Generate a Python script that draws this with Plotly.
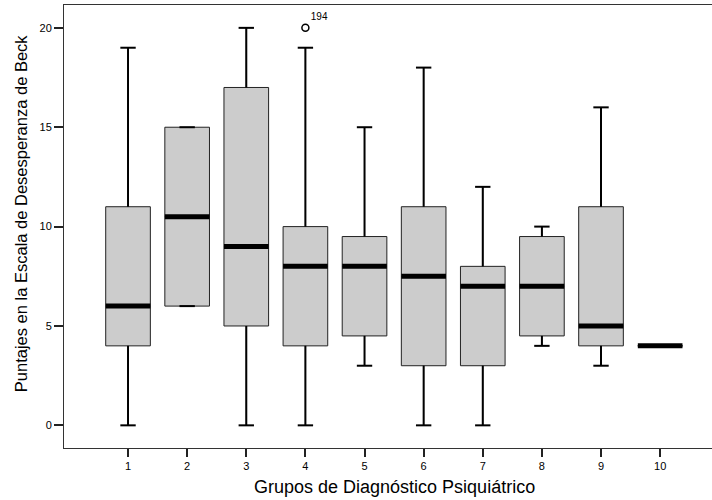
import plotly.graph_objects as go

groups = [1, 2, 3, 4, 5, 6, 7, 8, 9, 10]
tick_labels = ["1", "2", "3", "4", "5", "6", "7", "8", "9", "10"]
mins = [0, 6, 0, 0, 3, 0, 0, 4, 3, 4]
q1s = [4, 6, 5, 4, 4.5, 3, 3, 4.5, 4, 4]
medians = [6, 10.5, 9, 8, 8, 7.5, 7, 7, 5, 4]
q3s = [11, 15, 17, 10, 9.5, 11, 8, 9.5, 11, 4]
maxs = [19, 15, 20, 19, 15, 18, 12, 10, 16, 4]
outlier_x = [4]
outlier_y = [20]
outlier_label = ["194"]

BOX_W = 0.755
CAP_W = 0.26

fig = go.Figure()

fig.add_trace(go.Box(
    x=groups, q1=q1s, median=medians, q3=q3s,
    lowerfence=mins, upperfence=maxs,
    width=BOX_W, whiskerwidth=0.0,
    fillcolor="#cccccc",
    line=dict(color="#222222", width=1),
    boxpoints=False, hoverinfo="skip", showlegend=False,
))

# whiskers + caps (thicker, black)
wx, wy = [], []
for g, lo, a, b, hi in zip(groups, mins, q1s, q3s, maxs):
    if g == 10:
        continue
    wx += [g, g, None, g, g, None]
    wy += [b, hi, None, a, lo, None]
    wx += [g - CAP_W / 2, g + CAP_W / 2, None, g - CAP_W / 2, g + CAP_W / 2, None]
    wy += [hi, hi, None, lo, lo, None]
fig.add_trace(go.Scatter(x=wx, y=wy, mode="lines",
                         line=dict(color="black", width=2),
                         hoverinfo="skip", showlegend=False))

# thick medians
mx, my = [], []
for g, m in zip(groups, medians):
    mx += [g - BOX_W / 2, g + BOX_W / 2, None]
    my += [m, m, None]
fig.add_trace(go.Scatter(x=mx, y=my, mode="lines",
                         line=dict(color="black", width=5),
                         hoverinfo="skip", showlegend=False))

# outlier
fig.add_trace(go.Scatter(
    x=outlier_x, y=outlier_y, mode="markers+text",
    marker=dict(symbol="circle-open", size=7, color="black", line=dict(width=1.5)),
    text=outlier_label, textposition="top right",
    textfont=dict(family="Arial", size=10, color="black"),
    hoverinfo="skip", showlegend=False,
))

fig.update_layout(
    width=724, height=500,
    margin=dict(l=64, r=0, t=5, b=52, autoexpand=False),
    paper_bgcolor="white", plot_bgcolor="white",
    font=dict(family="Arial", color="black"),
    showlegend=False,
    xaxis=dict(
        range=[-0.083, 11.08], tickmode="array", tickvals=groups, ticktext=tick_labels,
        showgrid=False, zeroline=False, automargin=False,
        showline=True, linecolor="#333333", linewidth=1, mirror=True,
        ticks="outside", ticklen=8, tickwidth=2, tickcolor="#222222",
        tickfont=dict(size=11, family="Arial"),
    ),
    yaxis=dict(
        range=[-1.14, 21.15], tickvals=[0, 5, 10, 15, 20],
        showgrid=False, zeroline=False, automargin=False,
        showline=True, linecolor="#333333", linewidth=1,
        ticks="outside", ticklen=9, tickwidth=1.5, tickcolor="#222222",
        tickfont=dict(size=11, family="Arial"),
    ),
    annotations=[
        dict(text="Grupos de Diagnóstico Psiquiátrico", xref="paper", yref="paper",
             x=(395 - 64) / 660, y=0, yshift=-39, xanchor="center", yanchor="middle",
             showarrow=False, font=dict(size=18, family="Arial")),
        dict(text="Puntajes en la Escala de Desesperanza de Beck", xref="paper", yref="paper",
             x=0, xshift=-43, y=0.53, xanchor="center", yanchor="middle", textangle=-90,
             showarrow=False, font=dict(size=16.5, family="Arial")),
    ],
)

fig.write_html(
    "out.html",
    config={"displayModeBar": False},
    post_script="document.body.style.margin='0';document.body.style.overflow='hidden';",
)
